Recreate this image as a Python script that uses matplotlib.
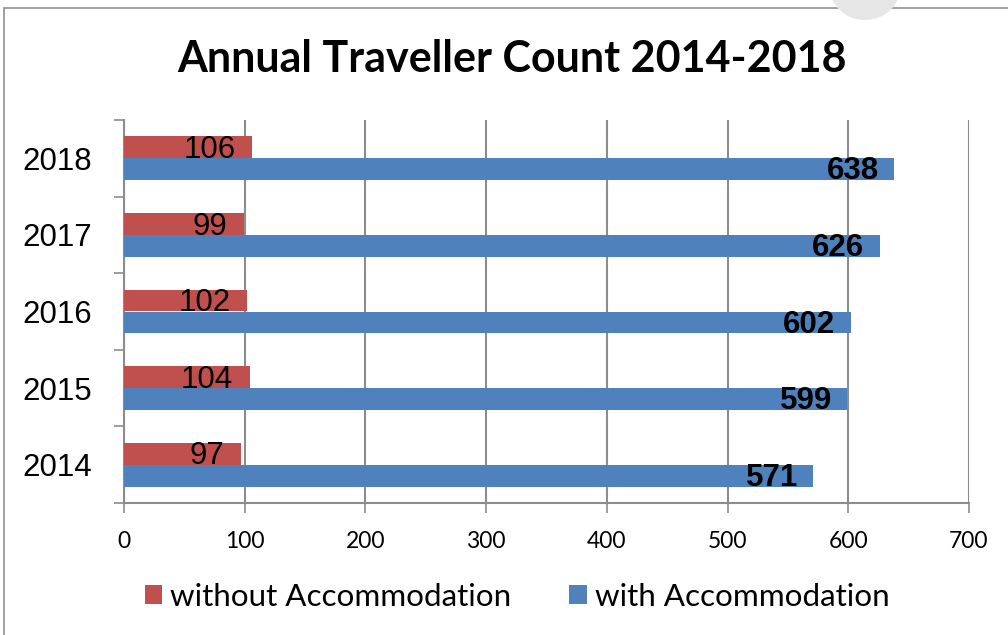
import matplotlib
matplotlib.use("Agg")
import matplotlib.pyplot as plt
from matplotlib.patches import Rectangle, Ellipse
from matplotlib.ticker import FixedLocator
import numpy as np

years = ["2014", "2015", "2016", "2017", "2018"]
without_acc = [97, 104, 102, 99, 106]
with_acc = [571, 599, 602, 626, 638]
x_ticks = [0, 100, 200, 300, 400, 500, 600, 700]
series_names = ["without Accommodation", "with Accommodation"]
title = "Annual Traveller Count 2014-2018"

RED = "#C0504D"
BLUE = "#4F81BD"
GRID = "#8c8c8c"

fig = plt.figure(figsize=(10.08, 6.35), dpi=100)
ax = fig.add_axes([124/1008, 1-503/635, (969-124)/1008, (503-120)/635])

y = np.arange(len(years))
h = 0.287
off = 0.1436
ax.barh(y + off, without_acc, height=h, color=RED, zorder=3, label=series_names[0])
ax.barh(y - off, with_acc, height=h, color=BLUE, zorder=3, label=series_names[1])

for yi, v in zip(y, without_acc):
    ax.annotate(str(v), xy=(v, yi + off), xytext=(-12, -2), textcoords="offset points",
                ha="right", va="center", fontsize=22.5, family="Liberation Sans", color="black", zorder=4)
for yi, v in zip(y, with_acc):
    ax.annotate(str(v), xy=(v, yi - off), xytext=(-11, -1.5), textcoords="offset points",
                ha="right", va="center", fontsize=22.5, fontweight="bold", family="Liberation Sans",
                color="black", zorder=4)

ax.set_xlim(0, 700)
ax.set_ylim(-0.5, len(years) - 0.5)
ax.set_xticks(x_ticks)
ax.set_xticklabels([str(t) for t in x_ticks], family="Lato", fontsize=16.5)
ax.set_yticks(y)
ax.set_yticklabels(years, family="Liberation Sans", fontsize=22.5)
ax.yaxis.set_minor_locator(FixedLocator(np.arange(-0.5, len(years), 1.0)))
ax.tick_params(axis="y", which="major", length=0, pad=23)
ax.tick_params(axis="y", which="minor", length=7, width=1.2, color=GRID, direction="out")
ax.tick_params(axis="x", which="major", length=7, width=1.2, color=GRID, direction="out", pad=13)

ax.grid(axis="x", color=GRID, linewidth=1.5, zorder=0)
ax.set_axisbelow(True)
for s in ["top", "right"]:
    ax.spines[s].set_visible(False)
for s in ["left", "bottom"]:
    ax.spines[s].set_color(GRID)
    ax.spines[s].set_linewidth(1.5)

fig.text(512/1008, 1-59/635, title, ha="center", va="center", fontsize=31,
         fontweight="bold", family="Lato")

leg = fig.legend(loc="center", bbox_to_anchor=(517/1008, 1-597/635), ncol=2, frameon=False,
                 handlelength=0.55, handleheight=0.55, handletextpad=0.26, columnspacing=1.85,
                 prop={"family": "Lato", "size": 22.6})

fig.patches.append(Rectangle((4/1008, -0.1), 1.2, 1 - 8/635 + 0.1, transform=fig.transFigure,
                             fill=False, edgecolor="#909090", linewidth=1.2))
fig.patches.append(Ellipse((865/1008, 1 - (-12)/635), 70/1008, 64/635, transform=fig.transFigure,
                           facecolor="#e6e6e6", edgecolor="none"))

fig.savefig("out.png", dpi=100)
